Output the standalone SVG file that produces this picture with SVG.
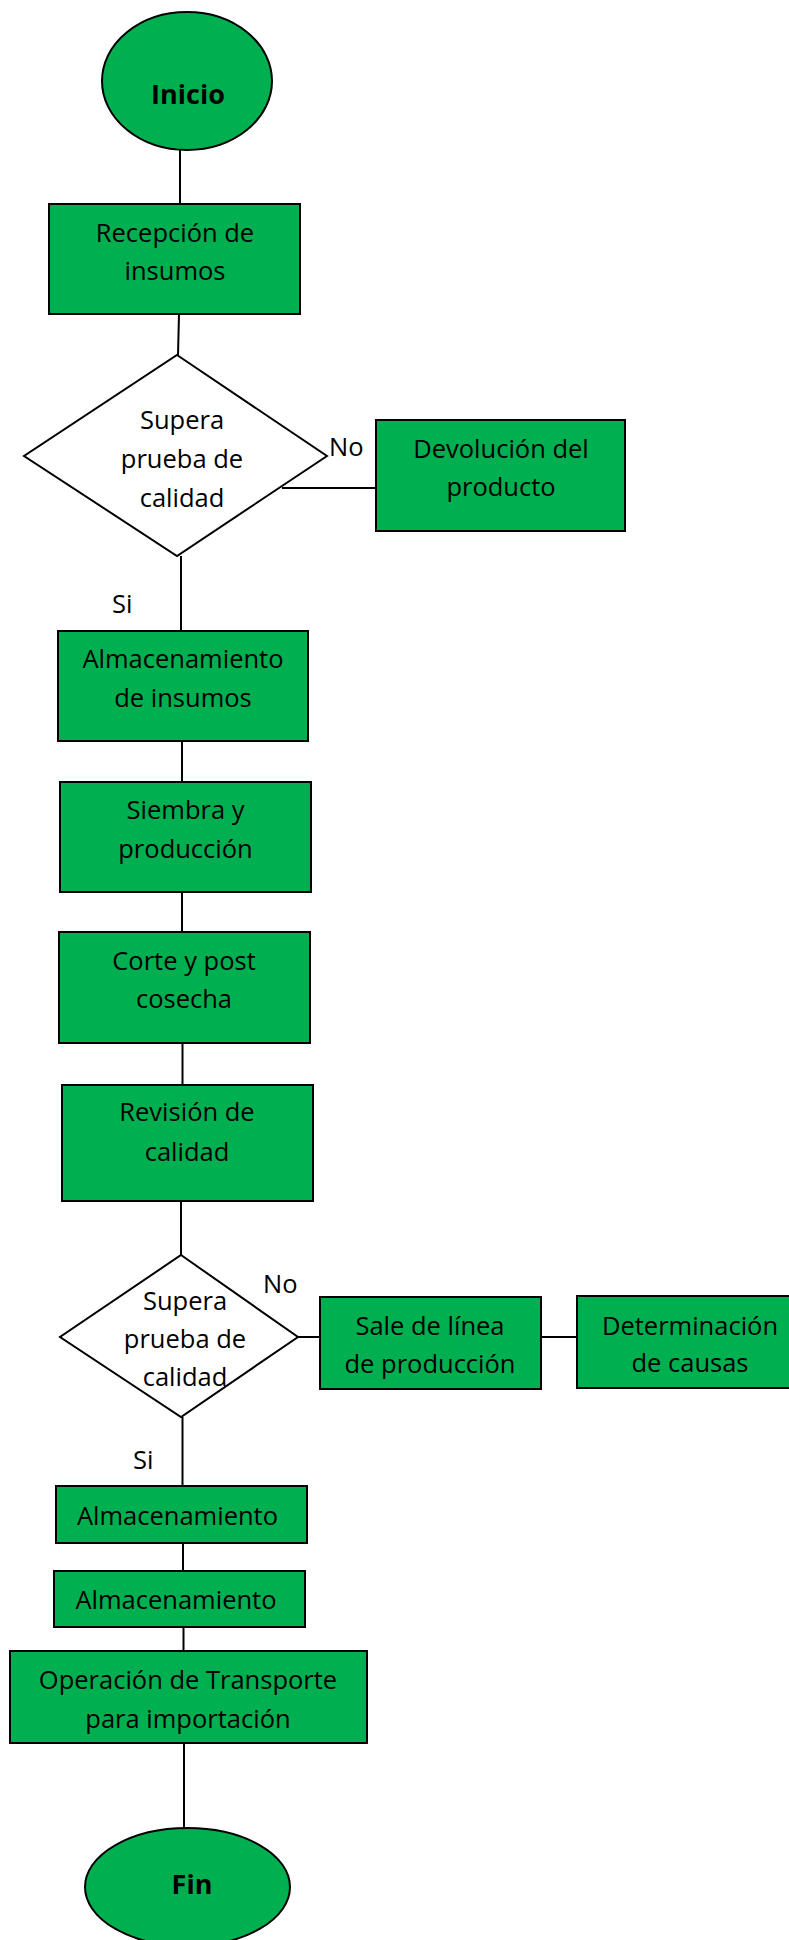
<svg xmlns="http://www.w3.org/2000/svg" width="789" height="1940" viewBox="0 0 789 1940">
<style>
.n{fill:#00B050;stroke:#000;stroke-width:2}
.d{fill:#fff;stroke:#000;stroke-width:2}
.t{font-family:"Open Sans","Liberation Sans",sans-serif;font-size:25.5px;fill:#000;text-anchor:middle}
.b{font-weight:bold;font-size:27px}
.l{font-family:"Open Sans","Liberation Sans",sans-serif;font-size:25.5px;fill:#000}
#edges line{stroke:#000;stroke-width:2}
</style>
<rect width="789" height="1940" fill="#fff"/>
<g id="edges">
<line x1="180" y1="150" x2="180" y2="204"/>
<line x1="179" y1="314" x2="178" y2="355"/>
<line x1="282" y1="488" x2="376" y2="488"/>
<line x1="181" y1="556" x2="181" y2="631"/>
<line x1="182" y1="741" x2="182" y2="782"/>
<line x1="182" y1="892" x2="182" y2="932"/>
<line x1="182.5" y1="1043" x2="182.5" y2="1085"/>
<line x1="181" y1="1201" x2="181" y2="1255"/>
<line x1="298" y1="1337" x2="320" y2="1337"/>
<line x1="541" y1="1337" x2="577" y2="1337"/>
<line x1="182.5" y1="1417" x2="182.5" y2="1486"/>
<line x1="183" y1="1543" x2="183" y2="1571"/>
<line x1="183.5" y1="1627" x2="183.5" y2="1651"/>
<line x1="184" y1="1743" x2="184" y2="1828"/>
</g>
<g id="inicio">
<ellipse class="n" cx="187" cy="81" rx="85" ry="69"/>
<text class="t b" x="188" y="104">Inicio</text>
</g>
<g id="recepcion">
<rect class="n" x="49" y="204" width="251" height="110"/>
<text class="t" x="175" y="242">Recepción de</text>
<text class="t" x="175" y="280">insumos</text>
</g>
<g id="decision1">
<polygon class="d" points="177,355 327,456 177,556 24,456"/>
<text class="t" x="182" y="429">Supera</text>
<text class="t" x="182" y="468">prueba de</text>
<text class="t" x="182" y="507">calidad</text>
</g>
<g id="label-no1"><text class="l" x="329" y="456">No</text></g>
<g id="devolucion">
<rect class="n" x="376" y="420" width="249" height="111"/>
<text class="t" x="501" y="458">Devolución del</text>
<text class="t" x="501" y="496">producto</text>
</g>
<g id="label-si1"><text class="l" x="112" y="613">Si</text></g>
<g id="almacenamiento-insumos">
<rect class="n" x="58" y="631" width="250" height="110"/>
<text class="t" x="183" y="668">Almacenamiento</text>
<text class="t" x="183" y="707">de insumos</text>
</g>
<g id="siembra">
<rect class="n" x="60" y="782" width="251" height="110"/>
<text class="t" x="185.5" y="819">Siembra y</text>
<text class="t" x="185.5" y="858">producción</text>
</g>
<g id="corte">
<rect class="n" x="59" y="932" width="251" height="111"/>
<text class="t" x="184" y="970">Corte y post</text>
<text class="t" x="184" y="1008">cosecha</text>
</g>
<g id="revision">
<rect class="n" x="62" y="1085" width="251" height="116"/>
<text class="t" x="187" y="1121">Revisión de</text>
<text class="t" x="187" y="1161">calidad</text>
</g>
<g id="decision2">
<polygon class="d" points="181,1255 298,1337 181,1417 60,1337"/>
<text class="t" x="185" y="1310">Supera</text>
<text class="t" x="185" y="1348">prueba de</text>
<text class="t" x="185" y="1386">calidad</text>
</g>
<g id="label-no2"><text class="l" x="263" y="1293">No</text></g>
<g id="sale-linea">
<rect class="n" x="320" y="1297" width="221" height="92"/>
<text class="t" x="430" y="1335">Sale de línea</text>
<text class="t" x="430" y="1373">de producción</text>
</g>
<g id="determinacion">
<rect class="n" x="577" y="1296" width="224" height="92"/>
<text class="t" x="690" y="1335">Determinación</text>
<text class="t" x="690" y="1372">de causas</text>
</g>
<g id="label-si2"><text class="l" x="133" y="1469">Si</text></g>
<g id="almacenamiento1">
<rect class="n" x="56" y="1486" width="251" height="57"/>
<text class="t" x="177.5" y="1525">Almacenamiento</text>
</g>
<g id="almacenamiento2">
<rect class="n" x="54" y="1571" width="251" height="56"/>
<text class="t" x="176" y="1609">Almacenamiento</text>
</g>
<g id="operacion">
<rect class="n" x="10" y="1651" width="357" height="92"/>
<text class="t" x="188" y="1689">Operación de Transporte</text>
<text class="t" x="188" y="1728">para importación</text>
</g>
<g id="fin">
<ellipse class="n" cx="187.5" cy="1887" rx="102.5" ry="59"/>
<text class="t b" x="192" y="1894">Fin</text>
</g>
</svg>
